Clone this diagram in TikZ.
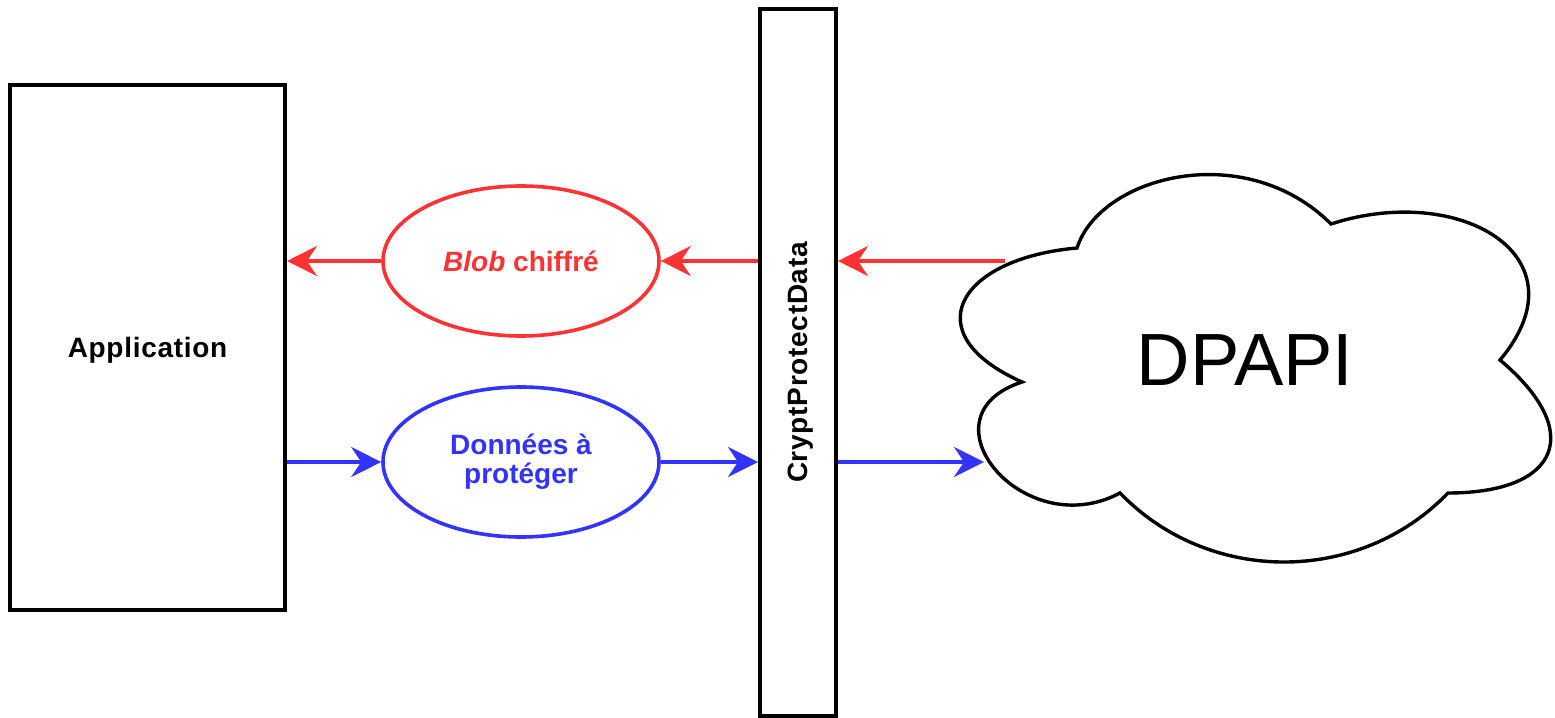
\documentclass[tikz,border=0pt]{standalone}
\usepackage{fontspec}
\setmainfont{Liberation Sans}
\usetikzlibrary{arrows.meta,shapes.geometric}
\definecolor{myred}{HTML}{FF3333}
\definecolor{myblue}{HTML}{3333FF}
\newcommand{\spacedbold}{\bfseries\addfontfeatures{LetterSpace=2.5}\fontsize{14}{15}\selectfont}
\begin{document}
\begin{tikzpicture}[x=0.5pt,y=0.5pt,
  box/.style={draw=black,line width=2pt,fill=white,inner sep=0pt,text depth=0pt,font=\spacedbold},
  oval/.style={ellipse,line width=1.8pt,fill=white,minimum width=138pt,minimum height=75pt,inner sep=0pt,align=center,font=\bfseries\fontsize{14}{14.5}\selectfont},
  arr/.style={line width=1.8pt,-{Stealth[length=15pt,width=15pt,inset=5pt]}},
  redarr/.style={arr,draw=myred,fill=myred},
  bluearr/.style={arr,draw=myblue,fill=myblue}]
\useasboundingbox (0,0) rectangle (1555,-718);
% boxes
\node[box,minimum width=137.5pt,minimum height=262.5pt] (app) at (147.5,-347.5) {Application};
\node[box,rotate=90,minimum width=353.5pt,minimum height=38pt] (bar) at (798,-362.5) {CryptProtectData};
% ellipses
\node[oval,draw=myred,text=myred] (blob) at (521,-261) {\textit{Blob} chiffré};
\node[oval,draw=myblue,text=myblue] (donnees) at (521,-462) {Données à\\protéger};
% cloud
\draw[line width=1.7pt,fill=white,line join=miter]
  (1077,-248) .. controls (1100,-176) and (1245,-138) .. (1331,-224)
  to[out=18,in=50,looseness=1.6] (1500,-360)
  to[out=-40,in=0,looseness=2.0] (1448,-493)
  to[out=-134,in=-46,looseness=1.0] (1120,-493)
  to[out=-152,in=-162,looseness=1.9] (1022,-382)
  to[out=156,in=185,looseness=2.1] (1077,-248) -- cycle;
\node[font=\fontsize{37}{40}\selectfont] (dpapi) at (1245,-360) {DPAPI};
\coordinate (cloudR) at (1005,-261);
\coordinate (cloudB) at (984,-462);
% connectors
\draw[redarr] (cloudR) -- (bar.south |- blob);
\draw[redarr] (bar.north |- blob) -- (blob.east);
\draw[redarr] (blob.west) -- (app.east |- blob);
\draw[bluearr] (app.east |- donnees) -- (donnees.west);
\draw[bluearr] (donnees.east) -- (bar.north |- donnees);
\draw[bluearr] (bar.south |- donnees) -- (cloudB);
\end{tikzpicture}
\end{document}
